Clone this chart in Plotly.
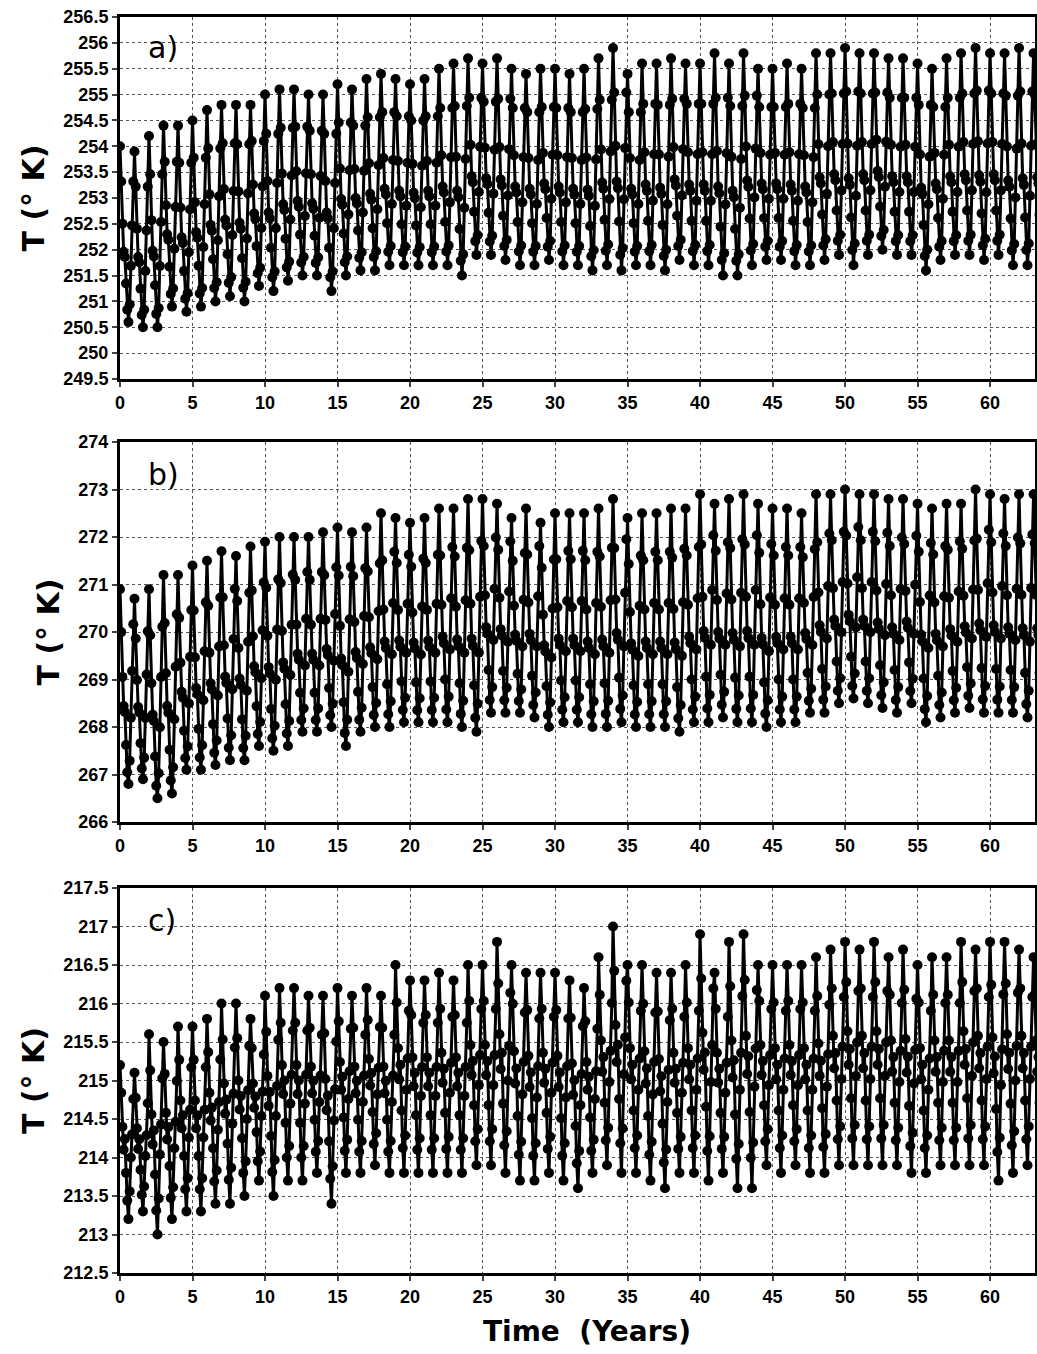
import numpy as np
import plotly.graph_objects as go

# ---------------- data ----------------
years = list(range(64))
# monthly position of each month inside a year (fraction of the annual range, 0 = annual min, 1 = annual max)
season_a = [1.00, 0.80, 0.56, 0.40, 0.37, 0.22, 0.07, 0.00, 0.10, 0.32, 0.55, 0.80]
season_b = [1.00, 0.78, 0.55, 0.40, 0.37, 0.20, 0.06, 0.00, 0.12, 0.34, 0.58, 0.82]
season_c = [1.00, 0.82, 0.60, 0.45, 0.52, 0.30, 0.12, 0.00, 0.18, 0.40, 0.55, 0.78]

max_a = [254.0, 253.9, 254.2, 254.4, 254.4, 254.5, 254.7, 254.8, 254.8, 254.8,
         255.0, 255.1, 255.1, 255.0, 255.0, 255.2, 255.1, 255.3, 255.4, 255.3,
         255.2, 255.3, 255.5, 255.6, 255.7, 255.6, 255.7, 255.5, 255.4, 255.5,
         255.5, 255.4, 255.5, 255.7, 255.9, 255.4, 255.6, 255.6, 255.7, 255.6,
         255.6, 255.8, 255.6, 255.8, 255.5, 255.5, 255.6, 255.5, 255.8, 255.8,
         255.9, 255.8, 255.8, 255.7, 255.7, 255.6, 255.5, 255.7, 255.8, 255.9,
         255.8, 255.8, 255.9, 255.8]
min_a = [250.6, 250.5, 250.5, 250.9, 250.8, 250.9, 251.0, 251.1, 251.0, 251.3,
         251.2, 251.4, 251.5, 251.5, 251.2, 251.5, 251.6, 251.6, 251.7, 251.7,
         251.7, 251.7, 251.7, 251.5, 251.9, 251.9, 251.8, 251.7, 251.7, 251.8,
         251.7, 251.7, 251.6, 251.7, 251.6, 251.7, 251.7, 251.6, 251.8, 251.7,
         251.7, 251.5, 251.5, 251.7, 251.8, 251.8, 251.7, 251.7, 251.8, 251.9,
         251.7, 251.9, 252.0, 251.9, 251.9, 251.6, 251.8, 251.9, 251.9, 251.8,
         251.9, 251.7, 251.7, 251.8]

max_b = [270.9, 270.7, 270.9, 271.2, 271.2, 271.4, 271.5, 271.7, 271.6, 271.8,
         271.9, 272.0, 272.0, 272.0, 272.1, 272.2, 272.1, 272.2, 272.5, 272.4,
         272.3, 272.4, 272.6, 272.6, 272.8, 272.8, 272.7, 272.4, 272.6, 272.3,
         272.5, 272.5, 272.5, 272.6, 272.8, 272.4, 272.5, 272.5, 272.6, 272.6,
         272.9, 272.7, 272.8, 272.9, 272.7, 272.6, 272.6, 272.5, 272.9, 272.9,
         273.0, 272.9, 272.9, 272.8, 272.8, 272.7, 272.6, 272.7, 272.7, 273.0,
         272.9, 272.8, 272.9, 272.9]
min_b = [266.8, 266.9, 266.5, 266.6, 267.1, 267.1, 267.2, 267.3, 267.3, 267.6,
         267.5, 267.6, 267.9, 267.9, 268.0, 267.6, 267.9, 268.0, 268.0, 268.1,
         268.1, 268.1, 268.1, 268.0, 267.9, 268.3, 268.3, 268.3, 268.2, 268.0,
         268.1, 268.1, 268.0, 268.0, 268.1, 268.0, 268.0, 268.0, 267.9, 268.1,
         268.1, 268.2, 268.1, 268.1, 268.0, 268.1, 268.1, 268.3, 268.3, 268.5,
         268.6, 268.5, 268.4, 268.3, 268.5, 268.1, 268.2, 268.3, 268.4, 268.3,
         268.3, 268.3, 268.2, 268.2]

max_c = [215.2, 215.1, 215.6, 215.5, 215.7, 215.7, 215.8, 216.0, 216.0, 215.8,
         216.1, 216.2, 216.2, 216.1, 216.1, 216.2, 216.1, 216.2, 216.1, 216.5,
         216.3, 216.3, 216.4, 216.3, 216.5, 216.5, 216.8, 216.5, 216.4, 216.4,
         216.4, 216.3, 216.2, 216.6, 217.0, 216.5, 216.5, 216.4, 216.4, 216.5,
         216.9, 216.4, 216.8, 216.9, 216.5, 216.5, 216.5, 216.5, 216.6, 216.7,
         216.8, 216.7, 216.8, 216.6, 216.7, 216.5, 216.6, 216.6, 216.8, 216.7,
         216.8, 216.8, 216.7, 216.6]
min_c = [213.2, 213.3, 213.0, 213.2, 213.3, 213.3, 213.4, 213.4, 213.5, 213.7,
         213.5, 213.7, 213.7, 213.8, 213.4, 213.8, 213.8, 213.9, 213.8, 213.8,
         213.8, 213.8, 213.8, 213.8, 213.9, 213.9, 213.8, 213.7, 213.7, 213.8,
         213.7, 213.6, 213.8, 213.9, 213.8, 213.8, 213.7, 213.6, 213.8, 213.8,
         213.7, 213.8, 213.6, 213.6, 213.9, 213.8, 213.9, 213.8, 213.8, 213.9,
         213.9, 213.9, 213.9, 213.9, 213.8, 213.8, 213.9, 213.9, 213.9, 213.9,
         213.7, 213.8, 213.9, 213.9]

panel_labels = ["a)", "b)", "c)"]
y_ranges = [(249.5, 256.5), (266.0, 274.0), (212.5, 217.5)]
y_dticks = [0.5, 1.0, 0.5]
x_ticks = list(range(0, 65, 5))


def monthly(season, mx, mn):
    t, v = [], []
    for yi, hi, lo in zip(years, mx, mn):
        for m, s in enumerate(season):
            t.append(yi + m / 12.0)
            v.append(lo + s * (hi - lo))
    return t, v


series = [monthly(season_a, max_a, min_a),
          monthly(season_b, max_b, min_b),
          monthly(season_c, max_c, min_c)]

# ---------------- figure ----------------
fig = go.Figure()
axes = [("x", "y"), ("x2", "y2"), ("x3", "y3")]
for (t, v), (xa, ya) in zip(series, axes):
    fig.add_trace(go.Scatter(
        x=t, y=v, xaxis=xa, yaxis=ya, mode="lines+markers",
        line=dict(color="black", width=3),
        marker=dict(color="black", size=10),
        cliponaxis=True,
        showlegend=False, hoverinfo="skip"))

W, H = 1037, 1354
top_px = [17, 442, 888]
bot_px = [379, 822, 1273]
t_margin = top_px[0]
b_margin = H - bot_px[2]
plot_h = H - t_margin - b_margin


def dom(tp, bp):
    return [(H - b_margin - bp) / plot_h, (H - b_margin - tp) / plot_h]


tickfont = dict(family="Liberation Sans, Arial, sans-serif", size=18,
                color="black", weight="bold")
layout = dict(
    width=W, height=H,
    margin=dict(l=120, r=2, t=t_margin, b=b_margin),
    paper_bgcolor="white", plot_bgcolor="white",
    showlegend=False,
)
for i in range(3):
    sfx = "" if i == 0 else str(i + 1)
    layout["xaxis" + sfx] = dict(
        domain=[0, 1], range=[0, 63.1], anchor="y" + sfx, automargin=False,
        tickvals=x_ticks, ticktext=[str(v) for v in x_ticks],
        tickfont=tickfont, ticks="outside", ticklen=5, tickwidth=2,
        ticklabeloverflow="allow",
        showline=True, linecolor="black", linewidth=3, mirror=True,
        showgrid=True, gridcolor="#555", griddash="dot", gridwidth=1,
        zeroline=False,
    )
    lo, hi = y_ranges[i]
    layout["yaxis" + sfx] = dict(
        domain=dom(top_px[i], bot_px[i]), range=[lo, hi], anchor="x" + sfx,
        automargin=False,
        dtick=y_dticks[i], tick0=lo,
        tickfont=tickfont, ticks="outside", ticklen=5, tickwidth=2,
        ticklabeloverflow="allow",
        showline=True, linecolor="black", linewidth=3, mirror=True,
        showgrid=True, gridcolor="#555", griddash="dot", gridwidth=1,
        zeroline=False,
        title=dict(text="T (° K)", standoff=10,
                   font=dict(family="DejaVu Sans, sans-serif", size=30,
                             color="black", weight="bold")),
    )
fig.update_layout(**layout)

for i, lab in enumerate(panel_labels):
    sfx = "" if i == 0 else str(i + 1)
    lo, hi = y_ranges[i]
    fig.add_annotation(
        x=1.8, y=hi - (hi - lo) * 0.085, xref="x" + sfx, yref="y" + sfx,
        text=lab, showarrow=False, xanchor="left", yanchor="middle",
        font=dict(family="DejaVu Sans, sans-serif", size=30, color="black"))

fig.add_annotation(x=0.51, y=0, xref="paper", yref="paper", yshift=-40,
                   text="Time  (Years)", showarrow=False,
                   xanchor="center", yanchor="top",
                   font=dict(family="DejaVu Sans, sans-serif", size=28,
                             color="black", weight="bold"))

# remove the default page margin so the figure fills the window exactly
fig.write_html("out.html",
               config={"displayModeBar": False, "staticPlot": True},
               post_script="document.body.style.margin='0';"
                           "document.body.style.overflow='hidden';")
